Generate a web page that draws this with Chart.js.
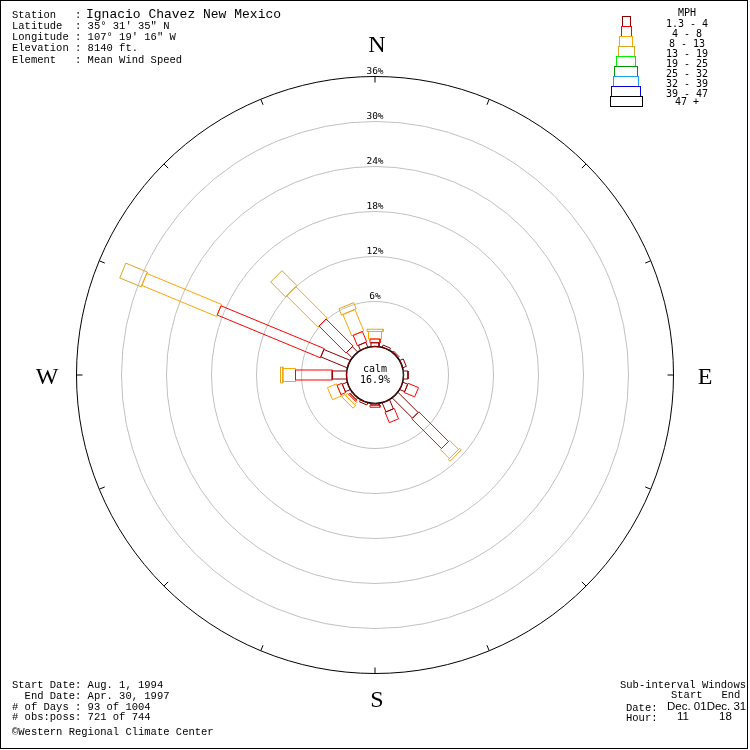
<!DOCTYPE html>
<html>
<head>
<meta charset="utf-8">
<script src="https://cdn.jsdelivr.net/npm/chart.js@4.4.0/dist/chart.umd.min.js"></script>
<style>
html, body { margin: 0; padding: 0; background: #fff; }
#wrap { position: relative; width: 750px; height: 750px; overflow: hidden; background: #fff; }
#rose { position: absolute; left: 0; top: 0; }
#frame { position: absolute; left: 0; top: 0; width: 748px; height: 749px; border: 1px solid #000; box-sizing: border-box; overflow: hidden; }
.t { position: absolute; white-space: pre; color: #000; }
.mono { font-family: "Liberation Mono", monospace; font-size: 10.5px; line-height: 10.5px; }
.sans { font-family: "Liberation Sans", sans-serif; font-size: 11.5px; line-height: 11.5px; }
.dj { font-family: "DejaVu Sans Mono", monospace; font-size: 10px; line-height: 10px; text-align: center; }
.cmp { font-family: "Liberation Serif", serif; font-size: 24px; line-height: 24px; width: 40px; text-align: center; }
.box { position: absolute; border: 1px solid; box-sizing: border-box; }
</style>
</head>
<body>
<div id="wrap">
  <canvas id="rose" width="750" height="750"></canvas>
  <div id="frame">
    <div class="t mono" style="left:11px;top:8.6px">Station   :</div>
    <div class="t mono" style="left:85px;top:6.7px;font-size:13px;line-height:13px">Ignacio Chavez New Mexico</div>
    <div class="t mono" style="left:11px;top:19.9px">Latitude  : 35° 31' 35" N</div>
    <div class="t mono" style="left:11px;top:31.1px">Longitude : 107° 19' 16" W</div>
    <div class="t mono" style="left:11px;top:42.4px">Elevation : 8140 ft.</div>
    <div class="t mono" style="left:11px;top:53.6px">Element   : Mean Wind Speed</div>

    <div class="t mono" style="left:11px;top:678.6px">Start Date: Aug. 1, 1994</div>
    <div class="t mono" style="left:11px;top:689.6px">  End Date: Apr. 30, 1997</div>
    <div class="t mono" style="left:11px;top:700.5px"># of Days : 93 of 1004</div>
    <div class="t mono" style="left:11px;top:711.2px"># obs:poss: 721 of 744</div>
    <div class="t mono" style="left:11px;top:726.2px">©Western Regional Climate Center</div>

    <div class="t mono" style="left:619px;top:678.6px">Sub-interval Windows</div>
    <div class="t mono" style="left:670px;top:689.4px">Start   End</div>
    <div class="t mono" style="left:625px;top:702px">Date:</div>
    <div class="t sans" style="left:666px;top:700.3px">Dec. 01Dec. 31</div>
    <div class="t mono" style="left:625px;top:712px">Hour:</div>
    <div class="t sans" style="left:676px;top:710.3px">11</div>
    <div class="t sans" style="left:718px;top:710.3px">18</div>

    <div class="t cmp" style="left:356px;top:30.9px">N</div>
    <div class="t cmp" style="left:26px;top:362.9px">W</div>
    <div class="t cmp" style="left:684px;top:362.9px">E</div>
    <div class="t cmp" style="left:356px;top:685.9px">S</div>

    <div class="t dj" style="left:344px;top:363.2px;width:60px">calm</div>
    <div class="t dj" id="calmLabel" style="left:344px;top:374.2px;width:60px"></div>

    <div class="t dj" style="left:656px;top:6.5px;width:60px">MPH</div>
    <div id="legend"></div>
  </div>
</div>
<script>
// wind directions (bars point toward the direction the wind comes from)
const directions = ['N', 'NNE', 'NE', 'ENE', 'E', 'ESE', 'SE', 'SSE', 'S', 'SSW', 'SW', 'WSW', 'W', 'WNW', 'NW', 'NNW'];
const speedClasses = ['1.3 - 4', '4 - 8', '8 - 13', '13 - 19', '19 - 25', '25 - 32', '32 - 39', '39 - 47', '47 +'];

// percent of observations per direction, one array per speed class
const mph1to4   = [0.5, 0.3, 0.2, 0.5, 0.6, 0.7, 3.8, 1.3, 0.2, 0.3, 0.3, 0.7, 1.9, 3.8, 1.0, 0.7];
const mph4to8   = [0.5, 0, 0, 0, 0, 1.5, 5.6, 1.5, 0.3, 0, 0.2, 0.7, 4.9, 14.9, 5.1, 1.5];
const mph8to13  = [1.0, 0, 0, 0, 0, 0, 1.7, 0, 0, 0, 0.4, 1.3, 1.7, 10.8, 5.9, 3.1];
const mph13to19 = [0.3, 0, 0, 0, 0, 0, 0.3, 0, 0, 0, 0.5, 0, 0.3, 3.1, 2.8, 0.9];
const mph19to25 = [0, 0, 0, 0, 0, 0, 0, 0, 0, 0, 0, 0, 0, 0, 0, 0];
const mph25to32 = [0, 0, 0, 0, 0, 0, 0, 0, 0, 0, 0, 0, 0, 0, 0, 0];
const mph32to39 = [0, 0, 0, 0, 0, 0, 0, 0, 0, 0, 0, 0, 0, 0, 0, 0];
const mph39to47 = [0, 0, 0, 0, 0, 0, 0, 0, 0, 0, 0, 0, 0, 0, 0, 0];
const mph47up   = [0, 0, 0, 0, 0, 0, 0, 0, 0, 0, 0, 0, 0, 0, 0, 0];

const ringTicks = [6, 12, 18, 24, 30, 36];
const calmPct = 16.9;

const seriesByClass = [mph1to4, mph4to8, mph8to13, mph13to19, mph19to25, mph25to32, mph32to39, mph39to47, mph47up];

// looks
const classColors = ['#8b0000', '#ff0000', '#ffa500', '#daa520', '#00ee00', '#009000', '#1ea0f0', '#0000e0', '#000000'];
const classWidthPx = [8, 10, 13, 16, 19, 23, 25, 29, 32];
const calmRadius = 3.8;   // calm circle radius, in percent units
const unitPx = 7.5;       // 100 units across 750 px

document.getElementById('calmLabel').textContent = calmPct.toFixed(1) + '%';

// legend boxes + labels
const legend = document.getElementById('legend');
speedClasses.forEach((name, c) => {
  const w = classWidthPx[c];
  const b = document.createElement('div');
  b.className = 'box';
  b.style.left = Math.floor(625 - w / 2) + 'px';
  b.style.width = (w + 1) + 'px';
  b.style.top = (15 + 10 * c) + 'px';
  b.style.height = '11px';
  b.style.borderColor = classColors[c];
  legend.appendChild(b);

  const t = document.createElement('div');
  t.className = 't dj';
  t.style.left = '656px';
  t.style.width = '60px';
  const base = c < speedClasses.length - 1 ? 26.5 + 10 * c : 104.5;
  t.style.top = (base - 8.46) + 'px';
  t.textContent = name;
  legend.appendChild(t);
});

// one outlined rectangle per direction and speed class, stacked outward
const datasets = [];
directions.forEach((dir, i) => {
  const a = i * 22.5 * Math.PI / 180;
  const ux = Math.sin(a), uy = Math.cos(a);
  const px = Math.cos(a), py = -Math.sin(a);
  let r0 = calmRadius;
  seriesByClass.forEach((vals, c) => {
    const v = vals[i];
    if (!v) return;
    const r1 = r0 + v;
    const hw = classWidthPx[c] / 2 / unitPx;
    const pts = [[r0, -hw], [r1, -hw], [r1, hw], [r0, hw], [r0, -hw]]
      .map(([r, w]) => ({ x: r * ux + w * px, y: r * uy + w * py }));
    datasets.push({
      label: dir + ' ' + speedClasses[c],
      data: pts,
      showLine: true,
      borderColor: classColors[c],
      borderWidth: 1,
      pointRadius: 0,
      fill: false,
      tension: 0
    });
    r0 = r1;
  });
});

const roseGrid = {
  id: 'roseGrid',
  beforeDatasetsDraw(chart) {
    const { ctx, scales: { x, y } } = chart;
    const cx = x.getPixelForValue(0), cy = y.getPixelForValue(0);
    const k = x.getPixelForValue(1) - cx;
    const last = ringTicks[ringTicks.length - 1];
    ctx.save();
    ctx.lineWidth = 1;
    ringTicks.forEach(p => {
      const r = (calmRadius + p) * k;
      ctx.strokeStyle = p === last ? '#000' : '#c0c0c0';
      ctx.beginPath();
      ctx.arc(cx, cy, r, 0, Math.PI * 2);
      ctx.stroke();
    });
    // compass ticks on the outer ring
    const rOut = (calmRadius + last) * k;
    ctx.strokeStyle = '#000';
    directions.forEach((d, i) => {
      const a = i * 22.5 * Math.PI / 180;
      ctx.beginPath();
      ctx.moveTo(cx + Math.sin(a) * rOut, cy - Math.cos(a) * rOut);
      ctx.lineTo(cx + Math.sin(a) * (rOut - 6), cy - Math.cos(a) * (rOut - 6));
      ctx.stroke();
    });
    // ring labels
    ctx.fillStyle = '#000';
    ctx.font = '9.5px "DejaVu Sans Mono"';
    ctx.textAlign = 'center';
    ctx.textBaseline = 'alphabetic';
    ringTicks.forEach(p => {
      const r = (calmRadius + p) * k;
      ctx.fillText(p + '%', cx, cy - r - 3);
    });
    // calm circle
    ctx.beginPath();
    ctx.arc(cx, cy, calmRadius * k, 0, Math.PI * 2);
    ctx.fillStyle = '#fff';
    ctx.fill();
    ctx.lineWidth = 1.5;
    ctx.strokeStyle = '#000';
    ctx.stroke();
    ctx.restore();
  }
};

new Chart(document.getElementById('rose'), {
  type: 'scatter',
  data: { datasets },
  options: {
    responsive: false,
    animation: false,
    events: [],
    layout: { padding: 0 },
    plugins: { legend: { display: false }, tooltip: { enabled: false } },
    scales: {
      x: { type: 'linear', min: -50, max: 50, display: false },
      y: { type: 'linear', min: -50, max: 50, display: false }
    }
  },
  plugins: [roseGrid]
});
</script>
</body>
</html>
